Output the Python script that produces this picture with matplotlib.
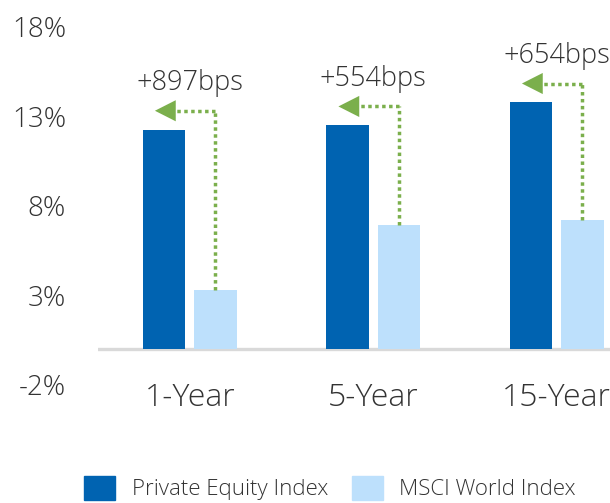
import numpy as np
import matplotlib.pyplot as plt
from matplotlib.patches import Patch

# Data (annualised returns, %)
periods = ['1-Year', '5-Year', '15-Year']
private_equity = [12.25, 12.49, 13.77]
msci_world = [3.28, 6.95, 7.23]
spread_labels = ['+897bps', '+554bps', '+654bps']
y_ticks = [-2, 3, 8, 13, 18]

PE_COLOR = '#0063B1'
MSCI_COLOR = '#BDE0FC'
ARROW_COLOR = '#7BAF4C'
TEXT_COLOR = '#333333'

plt.rcParams['font.family'] = ['Open Sans', 'DejaVu Sans']
plt.rcParams['font.weight'] = 'light'


def main():
    fig = plt.figure(figsize=(6.10, 5.03), dpi=100)
    ax = fig.add_axes([0.1607, 0.2346, 0.8393, 0.7127])

    x = np.arange(len(periods))
    width = 0.23
    offset = 0.14
    ax.bar(x - offset, private_equity, width, color=PE_COLOR, zorder=2)
    ax.bar(x + offset, msci_world, width, color=MSCI_COLOR, zorder=2)

    # spread arrows: up from the MSCI bar, then left towards the PE bar
    for i in range(len(periods)):
        ya = private_equity[i] + 1.05
        xs = x[i] + offset
        xe = x[i] - 0.19
        ax.plot([xs, xs], [msci_world[i], ya], color=ARROW_COLOR, lw=2.5,
                linestyle=(0, (1.0, 1.0)), zorder=3)
        ax.plot([xs, xe + 0.08], [ya, ya], color=ARROW_COLOR, lw=2.5,
                linestyle=(0, (1.0, 1.0)), zorder=3)
        ax.annotate('', xy=(xe, ya), xytext=(xe + 0.09, ya),
                    arrowprops=dict(arrowstyle='-|>,head_length=0.75,head_width=0.38',
                                    mutation_scale=20, color=ARROW_COLOR, lw=0,
                                    shrinkA=0, shrinkB=0),
                    zorder=4)
        ax.text(x[i], ya + 1.55, spread_labels[i], ha='center', va='center',
                fontsize=19.5, color=TEXT_COLOR)
        ax.text(x[i], -3.16, periods[i], ha='center', va='baseline',
                fontsize=23, color=TEXT_COLOR, clip_on=False)

    ax.set_xlim(-0.5, 2.29)
    ax.set_ylim(-2, 18)
    ax.set_yticks(y_ticks)
    ax.set_yticklabels([f'{t}%' for t in y_ticks])
    ax.tick_params(axis='y', length=0, pad=23, labelsize=20, labelcolor=TEXT_COLOR)
    ax.set_xticks([])
    for side in ['top', 'right', 'left', 'bottom']:
        ax.spines[side].set_visible(False)
    ax.axhline(0, color='#D9D9D9', lw=2.4, zorder=1)

    handles = [Patch(color=PE_COLOR, label='Private Equity Index'),
               Patch(color=MSCI_COLOR, label='MSCI World Index')]
    fig.legend(handles=handles, loc='center', bbox_to_anchor=(0.541, 0.03),
               ncol=2, frameon=False, fontsize=16, handlelength=1.4,
               handleheight=1.3, handletextpad=0.75, columnspacing=1.05,
               labelcolor=TEXT_COLOR)

    fig.savefig('out.png', dpi=100)


if __name__ == '__main__':
    main()
